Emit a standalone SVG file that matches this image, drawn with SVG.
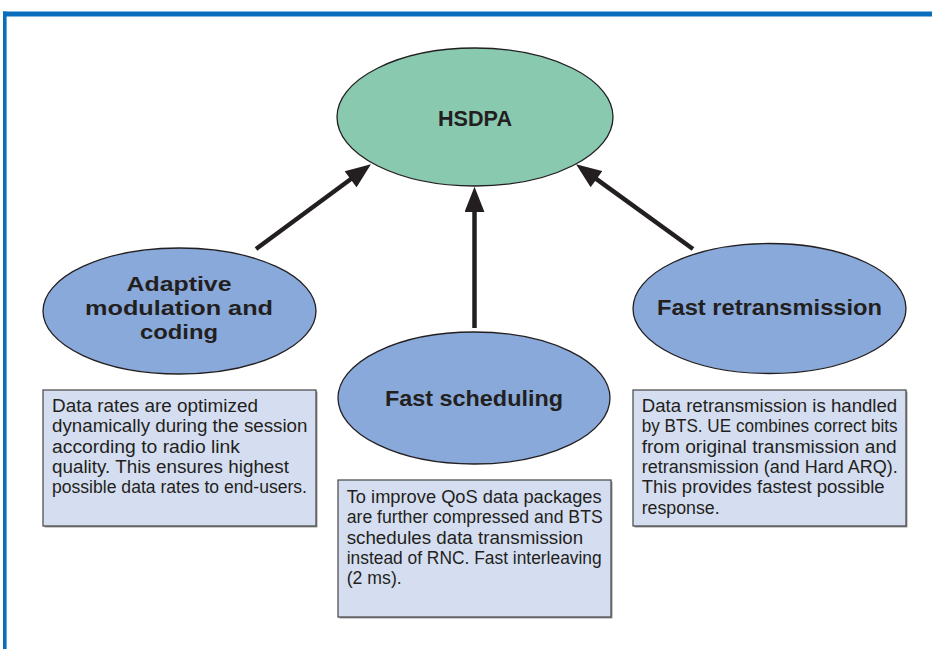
<svg xmlns="http://www.w3.org/2000/svg" width="932" height="649" viewBox="0 0 932 649">
  <defs>
    <marker id="arr" markerUnits="userSpaceOnUse" markerWidth="26" markerHeight="20" viewBox="0 0 24 19" refX="2" refY="9.5" orient="auto">
      <path d="M0,0 L24,9.5 L0,19 Z" fill="#231F20"/>
    </marker>
    <style>
      .frame { fill: #0A6EBD; }
      .hub { fill: #88C9B0; stroke: #231F20; stroke-width: 1.3; }
      .feat { fill: #88A9D9; stroke: #231F20; stroke-width: 1.3; }
      .box { fill: #D5DEF0; stroke: #444; stroke-width: 1.2; }
      .shadow { fill: #9A9A9A; }
      .title { font-family: "Liberation Sans", Arial, sans-serif; font-weight: bold; font-size: 22.3px; fill: #231F20; text-anchor: middle; }
      .title-ml { font-size: 21px; }
      .body { font-family: "Liberation Sans", Arial, sans-serif; font-size: 17.5px; fill: #231F20; }
      .conn { stroke: #231F20; stroke-width: 4.5; fill: none; marker-end: url(#arr); }
    </style>
  </defs>
  <rect width="932" height="649" fill="#FFFFFF"/>
  <rect class="frame" x="3" y="11.5" width="929" height="5"/>
  <rect class="frame" x="3" y="11.5" width="3.6" height="640"/>

  <g id="connectors">
    <line class="conn" x1="256" y1="249" x2="352.3" y2="178"/>
    <line class="conn" x1="474.5" y1="328" x2="474.5" y2="210"/>
    <line class="conn" x1="693" y1="249" x2="594.8" y2="177.9"/>
  </g>

  <g id="hsdpa">
    <ellipse class="hub" cx="475" cy="117" rx="138" ry="69"/>
    <text class="title" x="475" y="126" textLength="74" lengthAdjust="spacingAndGlyphs">HSDPA</text>
  </g>

  <g id="amc">
    <ellipse class="feat" cx="179.5" cy="311" rx="136.5" ry="63"/>
    <text class="title title-ml" x="179" y="291.3" textLength="105" lengthAdjust="spacingAndGlyphs">Adaptive</text>
    <text class="title title-ml" x="179" y="314.9" textLength="188" lengthAdjust="spacingAndGlyphs">modulation and</text>
    <text class="title title-ml" x="179" y="338.5" textLength="78" lengthAdjust="spacingAndGlyphs">coding</text>
  </g>

  <g id="scheduling">
    <ellipse class="feat" cx="474" cy="398" rx="136" ry="66"/>
    <text class="title" x="474" y="406" textLength="178" lengthAdjust="spacingAndGlyphs">Fast scheduling</text>
  </g>

  <g id="retransmission">
    <ellipse class="feat" cx="769.5" cy="308.5" rx="136.5" ry="65"/>
    <text class="title" x="769.5" y="315" textLength="225" lengthAdjust="spacingAndGlyphs">Fast retransmission</text>
  </g>

  <g id="amc-note">
    <rect class="shadow" x="44.5" y="391.5" width="273" height="136"/>
    <rect class="box" x="43" y="390" width="273" height="136"/>
    <text class="body" x="52" y="412" textLength="206" lengthAdjust="spacingAndGlyphs">Data rates are optimized</text>
    <text class="body" x="52" y="432.3" textLength="255.5" lengthAdjust="spacingAndGlyphs">dynamically during the session</text>
    <text class="body" x="52" y="452.6" textLength="188" lengthAdjust="spacingAndGlyphs">according to radio link</text>
    <text class="body" x="52" y="472.9" textLength="237" lengthAdjust="spacingAndGlyphs">quality. This ensures highest</text>
    <text class="body" x="52" y="493.2" textLength="255" lengthAdjust="spacingAndGlyphs">possible data rates to end-users.</text>
  </g>

  <g id="scheduling-note">
    <rect class="shadow" x="339.5" y="481.5" width="273" height="137"/>
    <rect class="box" x="338" y="480" width="273" height="137"/>
    <text class="body" x="346.7" y="503" textLength="255" lengthAdjust="spacingAndGlyphs">To improve QoS data packages</text>
    <text class="body" x="346.7" y="523.3" textLength="256" lengthAdjust="spacingAndGlyphs">are further compressed and BTS</text>
    <text class="body" x="346.7" y="543.6" textLength="236.5" lengthAdjust="spacingAndGlyphs">schedules data transmission</text>
    <text class="body" x="346.7" y="563.9" textLength="255" lengthAdjust="spacingAndGlyphs">instead of RNC. Fast interleaving</text>
    <text class="body" x="346.7" y="584.2" textLength="55" lengthAdjust="spacingAndGlyphs">(2 ms).</text>
  </g>

  <g id="retransmission-note">
    <rect class="shadow" x="634.5" y="391.5" width="273" height="136"/>
    <rect class="box" x="633" y="390" width="273" height="136"/>
    <text class="body" x="641.7" y="412" textLength="255.5" lengthAdjust="spacingAndGlyphs">Data retransmission is handled</text>
    <text class="body" x="641.7" y="432.3" textLength="256" lengthAdjust="spacingAndGlyphs">by BTS. UE combines correct bits</text>
    <text class="body" x="641.7" y="452.6" textLength="255" lengthAdjust="spacingAndGlyphs">from original transmission and</text>
    <text class="body" x="641.7" y="472.9" textLength="256" lengthAdjust="spacingAndGlyphs">retransmission (and Hard ARQ).</text>
    <text class="body" x="641.7" y="493.2" textLength="243" lengthAdjust="spacingAndGlyphs">This provides fastest possible</text>
    <text class="body" x="641.7" y="513.5" textLength="78" lengthAdjust="spacingAndGlyphs">response.</text>
  </g>
</svg>
